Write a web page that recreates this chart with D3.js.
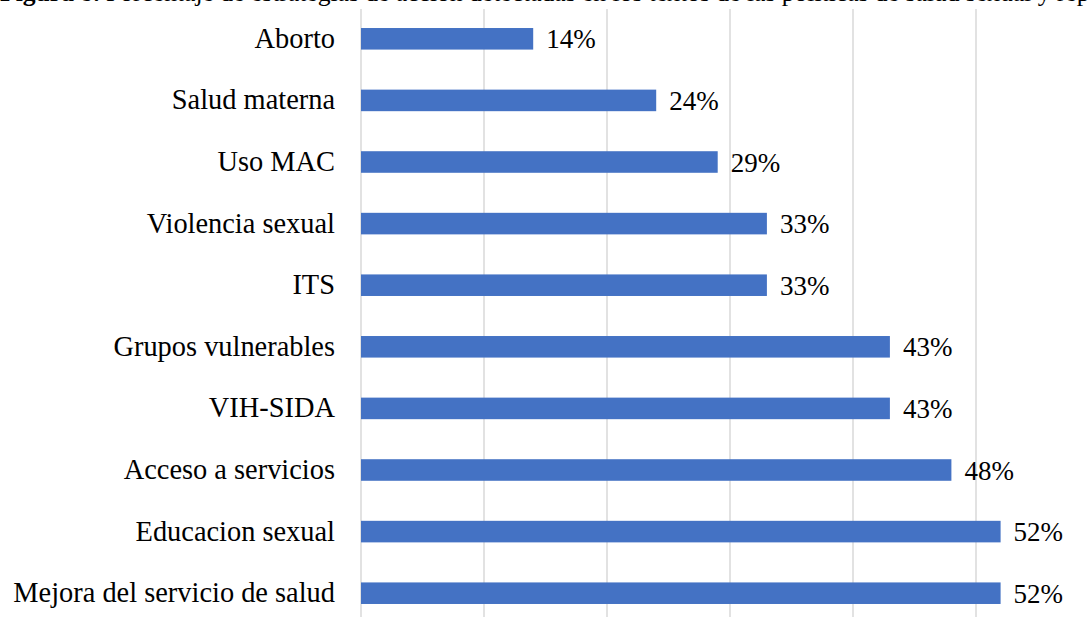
<!DOCTYPE html>
<html>
<head>
<meta charset="utf-8">
<script src="https://cdn.jsdelivr.net/npm/d3@7"></script>
<style>
  html, body { margin: 0; padding: 0; background: #ffffff; }
  svg { display: block; }
</style>
</head>
<body>
<svg id="chart" width="1087" height="617"></svg>
<script>
// Strategy categories (top to bottom) and their share of policy texts
const categories = [
  "Aborto",
  "Salud materna",
  "Uso MAC",
  "Violencia sexual",
  "ITS",
  "Grupos vulnerables",
  "VIH-SIDA",
  "Acceso a servicios",
  "Educacion sexual",
  "Mejora del servicio de salud"
];
const values = [0.14, 0.24, 0.29, 0.33, 0.33, 0.43, 0.43, 0.48, 0.52, 0.52];
const tickValues = [0, 0.1, 0.2, 0.3, 0.4, 0.5, 0.6];
const titleBold = "Figura 8.";
const titleRest = " Porcentaje de estrategias de acción detectadas en los textos de las políticas de salud sexual y reproductiva";

const svg = d3.select("#chart");
const serif = "'Liberation Serif', 'Times New Roman', serif";

const x = d3.scaleLinear().domain([0, 0.6]).range([361, 1099]);
const y = d3.scaleBand().domain(categories).range([8, 624])
  .paddingInner(0.65).paddingOuter(0.325);

// Caption line running off the top edge of the page
const title = svg.append("text")
  .attr("x", 0).attr("y", 1)
  .attr("font-family", serif).attr("font-size", 25.6).attr("fill", "#000");
title.append("tspan").attr("font-weight", "bold").text(titleBold);
title.append("tspan").text(titleRest);

// Vertical gridlines
svg.append("g")
  .selectAll("line")
  .data(tickValues)
  .join("line")
  .attr("x1", d => x(d)).attr("x2", d => x(d))
  .attr("y1", 9).attr("y2", 617)
  .attr("stroke", "#d9d9d9").attr("stroke-width", 1.5);

// Bars
svg.append("g")
  .selectAll("rect")
  .data(categories)
  .join("rect")
  .attr("x", x(0))
  .attr("y", d => y(d))
  .attr("width", (d, i) => x(values[i]) - x(0))
  .attr("height", y.bandwidth())
  .attr("fill", "#4472c4");

// Category labels
svg.append("g")
  .selectAll("text")
  .data(categories)
  .join("text")
  .attr("x", 335)
  .attr("y", d => y(d) + y.bandwidth() / 2 + 9)
  .attr("text-anchor", "end")
  .attr("font-family", serif).attr("font-size", 28.4).attr("fill", "#000")
  .text(d => d);

// Value labels
svg.append("g")
  .selectAll("text")
  .data(categories)
  .join("text")
  .attr("x", (d, i) => x(values[i]) + 13)
  .attr("y", d => y(d) + y.bandwidth() / 2 + 9.5)
  .attr("font-family", serif).attr("font-size", 27).attr("fill", "#000")
  .text((d, i) => d3.format(".0%")(values[i]));
</script>
</body>
</html>
